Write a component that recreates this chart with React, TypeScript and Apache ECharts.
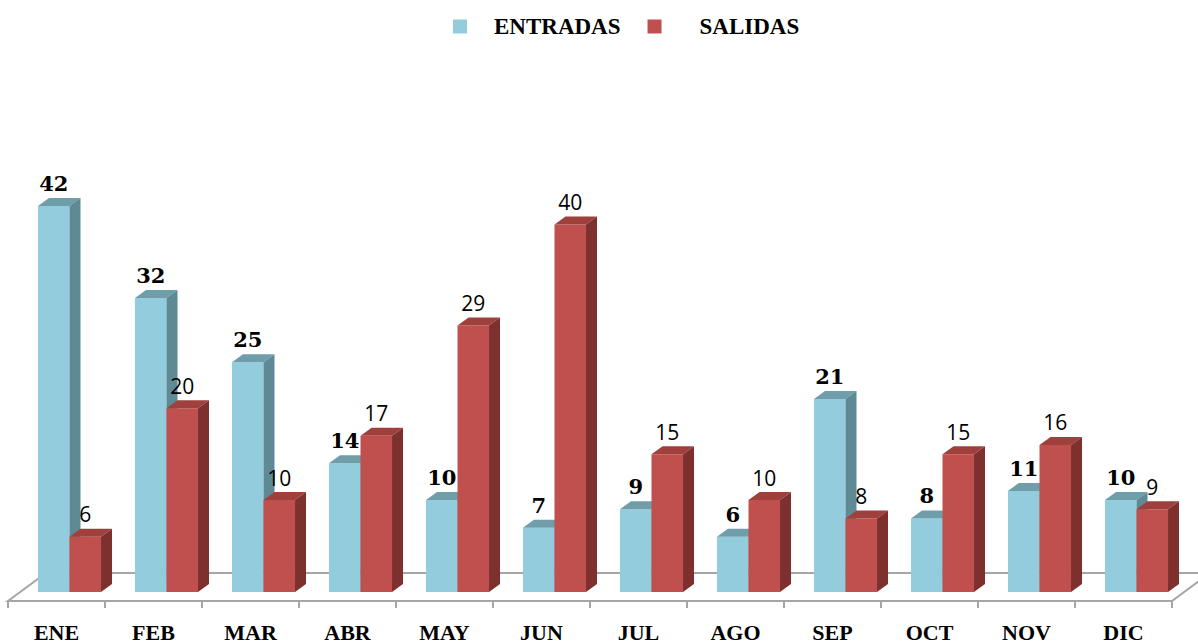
import React, { useEffect, useRef } from "react";
import * as echarts from "echarts";

const months = ["ENE", "FEB", "MAR", "ABR", "MAY", "JUN", "JUL", "AGO", "SEP", "OCT", "NOV", "DIC"];
const entradas = [42, 32, 25, 14, 10, 7, 9, 6, 21, 8, 11, 10];
const salidas = [6, 20, 10, 17, 29, 40, 15, 10, 8, 15, 16, 9];
const seriesNames = ["ENTRADAS", "SALIDAS"];

const BLUE = { front: "#93CDDD", top: "#6F9DA9", side: "#5D8A95" };
const RED = { front: "#C0504D", top: "#A0403D", side: "#7E302E" };
const DX = 11;
const DY = 8;

function makeBarRenderer(idx: number, pal: { front: string; top: string; side: string }, labelStyle: any, gap: number) {
  return (params: any, api: any) => {
    const cat = api.value(0);
    const val = api.value(1);
    const base = api.coord([cat, 0]);
    const top = api.coord([cat, val]);
    const band = api.size([1, 0])[0];
    const bw = band * 0.325;
    const x0 = idx === 0 ? base[0] - bw : base[0];
    const ty = top[1];
    const by = base[1];
    return {
      type: "group",
      children: [
        {
          type: "rect",
          shape: { x: x0, y: ty, width: bw, height: by - ty },
          style: { fill: pal.front },
        },
        {
          type: "polygon",
          shape: {
            points: [
              [x0, ty],
              [x0 + bw, ty],
              [x0 + bw + DX, ty - DY],
              [x0 + DX, ty - DY],
            ],
          },
          style: { fill: pal.top },
        },
        {
          type: "polygon",
          shape: {
            points: [
              [x0 + bw, ty],
              [x0 + bw + DX, ty - DY],
              [x0 + bw + DX, by - DY],
              [x0 + bw, by],
            ],
          },
          style: { fill: pal.side },
        },
        {
          type: "text",
          x: x0 + bw / 2,
          y: ty - DY - gap,
          style: {
            text: String(val),
            align: "center",
            verticalAlign: "bottom",
            fill: "#000",
            ...labelStyle,
          },
        },
      ],
    };
  };
}

export default function App() {
  const ref = useRef<HTMLDivElement>(null);
  useEffect(() => {
    document.body.style.margin = "0";
    const chart = echarts.init(ref.current!, null, { renderer: "svg" });
    const option: any = {
      animation: false,
      backgroundColor: "#ffffff",
      legend: {
        data: seriesNames,
        left: 448,
        top: 10,
        itemWidth: 14,
        itemHeight: 14,
        itemGap: 27,
        icon: "rect",
        formatter: (name: string) => (name === "ENTRADAS" ? "{p1|}" + name : "{p2|}" + name),
        textStyle: {
          fontFamily: "Liberation Serif",
          fontWeight: "bold",
          fontSize: 23,
          color: "#000",
          rich: {
            p1: { width: 22 },
            p2: { width: 33 },
          },
        },
      },
      grid: [
        { left: 21, right: 13, top: 206, bottom: 51 },
        { left: 8, right: 26, top: 500, bottom: 42 },
      ],
      xAxis: [
        { type: "category", gridIndex: 0, data: months, show: false },
        {
          type: "category",
          gridIndex: 1,
          data: months,
          axisLine: { show: true, lineStyle: { color: "#A6A6A6", width: 2 } },
          axisTick: { show: true, length: 7, lineStyle: { color: "#A6A6A6", width: 2 } },
          axisLabel: {
            margin: 20,
            fontFamily: "Liberation Serif",
            fontWeight: "bold",
            fontSize: 22,
            color: "#000",
          },
        },
      ],
      yAxis: [
        { type: "value", gridIndex: 0, min: 0, max: 42, show: false },
        { type: "value", gridIndex: 1, min: 0, max: 1, show: false },
      ],
      series: [
        {
          type: "custom",
          name: "floor",
          xAxisIndex: 1,
          yAxisIndex: 1,
          z: 1,
          silent: true,
          clip: false,
          data: [[0, 0]],
          renderItem: (params: any) => {
            const cs = params.coordSys;
            const b = cs.y + cs.height;
            const l = cs.x;
            const r = cs.x + cs.width;
            return {
              type: "polygon",
              shape: {
                points: [
                  [l, b],
                  [r, b],
                  [r + 38, b - 28],
                  [l + 38, b - 28],
                ],
              },
              style: { fill: "#ffffff", stroke: "#A6A6A6", lineWidth: 2 },
            };
          },
        },
        {
          type: "custom",
          name: "ENTRADAS",
          xAxisIndex: 0,
          yAxisIndex: 0,
          z: 3,
          clip: false,
          itemStyle: { color: BLUE.front },
          data: months.map((m, i) => [i, entradas[i]]),
          renderItem: makeBarRenderer(
            0,
            BLUE,
            { fontFamily: "DejaVu Serif", fontWeight: "bold", fontSize: 21 },
            4
          ),
        },
        {
          type: "custom",
          name: "SALIDAS",
          xAxisIndex: 0,
          yAxisIndex: 0,
          z: 4,
          clip: false,
          itemStyle: { color: RED.front },
          data: months.map((m, i) => [i, salidas[i]]),
          renderItem: makeBarRenderer(
            1,
            RED,
            { fontFamily: "Open Sans", fontWeight: "normal", fontSize: 21 },
            4
          ),
        },
      ],
    };
    chart.setOption(option);
    return () => chart.dispose();
  }, []);
  return <div ref={ref} style={{ width: 1198, height: 643 }} />;
}
